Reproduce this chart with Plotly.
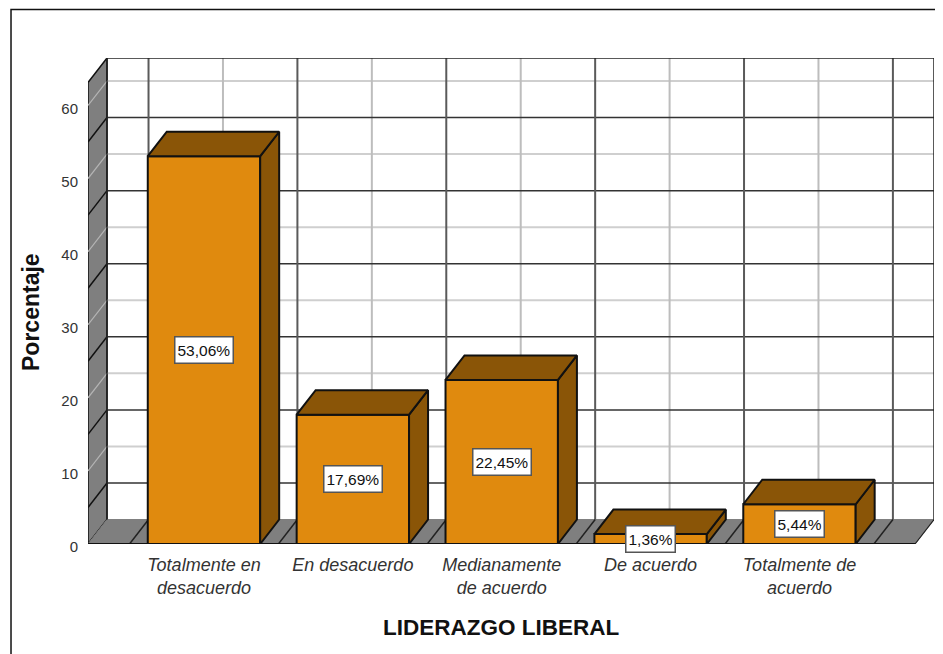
import plotly.graph_objects as go

categories = ["Totalmente en<br>desacuerdo", "En desacuerdo", "Medianamente<br>de acuerdo", "De acuerdo", "Totalmente de<br>acuerdo"]
values = [53.06, 17.69, 22.45, 1.36, 5.44]
labels = ["53,06%", "17,69%", "22,45%", "1,36%", "5,44%"]
y_ticks = [0, 10, 20, 30, 40, 50, 60]
dark_levels = [5, 15, 25, 35, 45, 55]

FRONT = "#E08A0E"
SHADE = "#8A5507"
WALL = "#7F7F7F"
TEXT = "#333333"
FONT = "Liberation Sans"

positions = list(range(len(categories)))
BAR_W = 0.755
DX, DY = 0.1276, 3.35        # depth of the 3D box in axis units
X0, X1 = -0.779, 4.776       # front floor edge
Y_TOP = 63.15                # front top of the wall


def seg(x0, y0, x1, y1, color, width):
    return dict(type="line", xref="x", yref="y", x0=x0, y0=y0, x1=x1, y1=y1,
                line=dict(color=color, width=width), layer="below")


def poly(xs, ys, fill, edge, width):
    path = "M" + " L".join(f"{a},{b}" for a, b in zip(xs, ys)) + " Z"
    return dict(type="path", xref="x", yref="y", path=path, fillcolor=fill,
                line=dict(color=edge, width=width), layer="below")


shapes = []
# left wall and floor
shapes.append(poly([X0, X0 + DX, X0 + DX, X0], [0, DY, Y_TOP + DY, Y_TOP], WALL, "#111", 1.5))
shapes.append(poly([X0, X1, X1 + DX, X0 + DX], [0, 0, DY, DY], WALL, WALL, 1))
# back wall: light lines
for v in y_ticks[1:]:
    shapes.append(seg(X0 + DX, v + DY, X1 + DX, v + DY, "#CFCFCF", 2))
    shapes.append(seg(X0, v, X0 + DX, v + DY, "#B5B5B5", 1.2))
for p in positions:
    shapes.append(seg(p + DX, DY, p + DX, Y_TOP + DY, "#BDBDBD", 2))
# back wall: dark lines
for v in dark_levels:
    shapes.append(seg(X0 + DX, v + DY, X1 + DX, v + DY, "#333", 1.5))
    shapes.append(seg(X0, v, X0 + DX, v + DY, "#111", 1.5))
for p in positions + [positions[-1] + 1]:
    xp = p - 0.5
    shapes.append(seg(xp + DX, DY, xp + DX, Y_TOP + DY, "#5a5a5a", 2))
    shapes.append(seg(xp, 0, xp + DX, DY, "#222", 1.5))
# frame of the walls
shapes.append(seg(X0 + DX, Y_TOP + DY, X1 + DX, Y_TOP + DY, "#222", 1.5))
shapes.append(seg(X1 + DX, DY, X1 + DX, Y_TOP + DY, "#222", 1.5))
shapes.append(seg(X0 + DX, DY, X0 + DX, Y_TOP + DY, "#222", 1.5))
shapes.append(seg(X0, 0, X1, 0, "#111", 2))
shapes.append(seg(X1, 0, X1 + DX, DY, "#222", 1.2))

# the page keeps an 8 px body margin, so the figure is 8 px smaller and shifted
W, H = 935, 646
L, R, T, B = 80, 9, 50, 110
PW, PH = W - L - R, H - T - B
shapes.append(dict(type="path", xref="paper", yref="paper",
                   path="M{:.4f},{:.4f} L{:.4f},{:.4f} L{:.4f},{:.4f}".format(
                       (3 - L) / PW, -B / PH, (3 - L) / PW, 1 + 48.5 / PH, (W - L) / PW, 1 + 48.5 / PH),
                   line=dict(color="#111", width=1.5), layer="below"))

top_x, top_y, side_x, side_y = [], [], [], []
for p, v in zip(positions, values):
    l, r = p - BAR_W / 2, p + BAR_W / 2
    top_x += [l, r, r + DX, l + DX, l, None]
    top_y += [v, v, v + DY, v + DY, v, None]
    side_x += [r, r + DX, r + DX, r, r, None]
    side_y += [0, DY, v + DY, v, 0, None]

fig = go.Figure()
fig.add_trace(go.Bar(x=positions, y=values, width=BAR_W, marker=dict(color=FRONT, line=dict(color="#111", width=2))))
for xs, ys in ((side_x, side_y), (top_x, top_y)):
    fig.add_trace(go.Scatter(x=xs, y=ys, mode="lines", fill="toself", fillcolor=SHADE,
                             line=dict(color="#111", width=2)))

annotations = [
    dict(x=p, y=v / 2, text=t, showarrow=False, bgcolor="white", bordercolor="#555", borderwidth=1.5,
         borderpad=2, height=21, font=dict(family=FONT, size=15.5, color="#111"))
    for p, v, t in zip(positions, values, labels)
]
annotations.append(dict(xref="paper", yref="paper", x=(501 - 88) / PW, y=(544 - 627) / PH, xanchor="center", yanchor="middle",
                        text="<b>LIDERAZGO LIBERAL</b>",
                        showarrow=False, font=dict(family=FONT, size=22.5, color="#111")))
annotations.append(dict(xref="paper", yref="paper", x=(31 - 88) / PW, y=(544 - 312) / PH, xanchor="center", yanchor="middle",
                        text="<b>Porcentaje</b>",
                        textangle=-90, showarrow=False, font=dict(family=FONT, size=23, color="#111")))

fig.update_layout(
    width=W, height=H, autosize=False,
    margin=dict(l=L, r=R, t=T, b=B, pad=0),
    paper_bgcolor="white", plot_bgcolor="white",
    showlegend=False, shapes=shapes, annotations=annotations,
    xaxis=dict(range=[X0, X1 + DX], tickvals=positions, ticktext=categories, showgrid=False, zeroline=False,
               showline=False, ticks="outside", ticklen=4, tickcolor="rgba(0,0,0,0)",
               tickfont=dict(family=FONT, size=18, color=TEXT, style="italic")),
    yaxis=dict(range=[0, Y_TOP + DY], tickvals=y_ticks, showgrid=False, zeroline=False, showline=False,
               ticks="outside", ticklen=6, tickcolor="rgba(0,0,0,0)", ticklabelshift=3,
               tickfont=dict(family=FONT, size=15, color=TEXT)),
)
fig.write_html("out.html")
